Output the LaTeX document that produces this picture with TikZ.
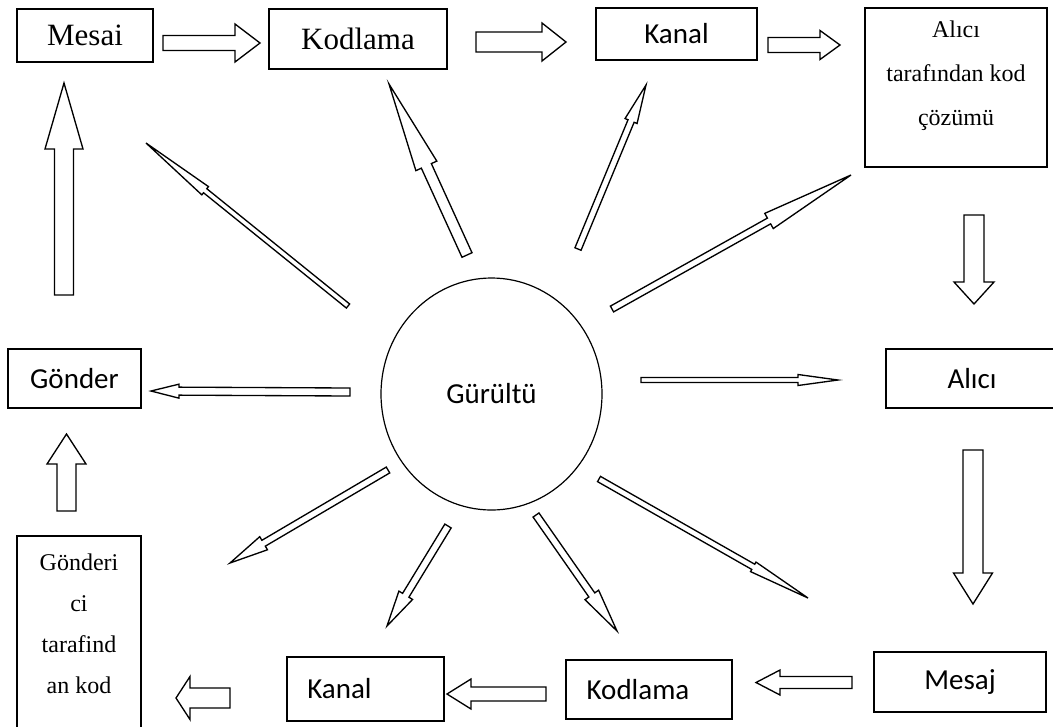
\documentclass[tikz,border=0pt]{standalone}
\usepackage{fontspec}
\setmainfont{Liberation Serif}
\newfontfamily\labelsans{Carlito}
\usetikzlibrary{calc,shapes.geometric}

% Outlined block arrow: #1 tail, #2 tip, #3 shaft half-width, #4 head half-width, #5 head length (all in px)
\newcommand{\blockarrow}[5]{%
  \pgfmathsetmacro\baw{#3*0.75}%
  \pgfmathsetmacro\bah{#4*0.75}%
  \pgfmathsetmacro\bal{#5*0.75}%
  \coordinate (ba-base) at ($(#2)!\bal pt!(#1)$);
  \draw[outlinearrow]
    ($(#1)!\baw pt!90:(#2)$) -- ($(ba-base)!\baw pt!90:(#2)$) -- ($(ba-base)!\bah pt!90:(#2)$)
    -- (#2) -- ($(ba-base)!\bah pt!-90:(#2)$) -- ($(ba-base)!\baw pt!-90:(#2)$)
    -- ($(#1)!\baw pt!-90:(#2)$) -- cycle;%
}

\tikzset{
  box/.style={draw, line width=1pt, inner sep=0pt},
  sz/.style 2 args={minimum width=#1*0.75pt, minimum height=#2*0.75pt},
  serifbig/.style={font=\fontsize{23.25}{28}\selectfont},
  sanslabel/.style={font=\labelsans\fontsize{21.75}{26}\selectfont},
  outlinearrow/.style={draw, line width=1pt, fill=white, line join=miter},
  stack/.style={anchor=north, inner sep=0pt, align=center},
}

\begin{document}
\begin{tikzpicture}[x=0.75pt, y=-0.75pt]
\useasboundingbox (0,0) rectangle (1053,726);
\fill[white] (0,0) rectangle (1053,726);
\clip (0,0) rectangle (1053,726);

% boxes
\node[box, sz={136}{53}, serifbig] (mesai) at (85,35.5) {Mesai};
\node[box, sz={178}{60}, serifbig] (kodlamaA) at (358,39) {Kodlama};
\node[box, sz={161}{52}, sanslabel] (kanalA) at (676.5,34) {Kanal};
\node[box, sz={182}{159}] (cozum) at (956,87.5) {};
\node[stack, font=\fontsize{18}{33}\selectfont] (cozumtext) at (956,17)
  {\rule{0pt}{15pt}Alıcı\\tarafından kod\\çözümü};
\node[box, sz={172}{59}, sanslabel] (alici) at (972,378.5) {Alıcı};
\node[box, sz={172}{60}, sanslabel] (mesaj) at (960,682) {Mesaj};
\node[box, sz={166}{59}, sanslabel] (kodlamaB) at (649,689.5) {Kodlama\rule{16.5pt}{0pt}};
\node[box, sz={157}{64}, sanslabel] (kanalB) at (365.5,689) {Kanal\rule{39pt}{0pt}};
\node[box, sz={124}{215}] (gkod) at (79,643.5) {};
\node[stack, font=\fontsize{18}{30.75}\selectfont] (gkodtext) at (79,550)
  {\rule{0pt}{15pt}Gönderi\\ci\\tarafind\\an kod};
\node[box, sz={133}{59}, sanslabel] (gonder) at (74.5,378.5) {Gönder};
\node[draw, ellipse, line width=0.9pt, inner sep=0pt, sz={221}{232}, sanslabel] (noise) at (491.5,394) {Gürültü};

% cycle arrows
\coordinate (c1t) at (163,43);   \coordinate (c1h) at (260,43);
\coordinate (c2t) at (476,42);   \coordinate (c2h) at (566,42);
\coordinate (c3t) at (768,45);   \coordinate (c3h) at (840,45);
\coordinate (c4t) at (974,215);  \coordinate (c4h) at (974,304);
\coordinate (c5t) at (973,450);  \coordinate (c5h) at (973,604);
\coordinate (c6t) at (852,682.5);\coordinate (c6h) at (756,682.5);
\coordinate (c7t) at (546,694);  \coordinate (c7h) at (447,694);
\coordinate (c8t) at (230,698);  \coordinate (c8h) at (176,698);
\coordinate (c9t) at (66.5,511); \coordinate (c9h) at (66.5,434);
\coordinate (c10t) at (64,295);  \coordinate (c10h) at (64,83);
\blockarrow{c1t}{c1h}{7.5}{19}{25}
\blockarrow{c2t}{c2h}{10}{19}{24}
\blockarrow{c3t}{c3h}{7.5}{14.5}{20}
\blockarrow{c4t}{c4h}{10}{20}{22}
\blockarrow{c5t}{c5h}{10}{19.5}{31}
\blockarrow{c6t}{c6h}{6}{12.5}{24}
\blockarrow{c7t}{c7h}{7}{15}{24}
\blockarrow{c8t}{c8h}{10}{21.5}{14}
\blockarrow{c9t}{c9h}{9.5}{19.5}{30}
\blockarrow{c10t}{c10h}{9.5}{19}{66}

% noise arrows radiating from the circle
\coordinate (r1t) at (350,392);  \coordinate (r1h) at (151,391);
\coordinate (r2t) at (348,306);  \coordinate (r2h) at (146,143);
\coordinate (r3t) at (467,255);  \coordinate (r3h) at (389,84);
\coordinate (r4t) at (578,249);  \coordinate (r4h) at (646,85);
\coordinate (r5t) at (612,309);  \coordinate (r5h) at (851,175);
\coordinate (r6t) at (641,380);  \coordinate (r6h) at (838,380);
\coordinate (r7t) at (599,479);  \coordinate (r7h) at (808,598);
\coordinate (r8t) at (536,515);  \coordinate (r8h) at (617,631);
\coordinate (r9t) at (448,526);  \coordinate (r9h) at (387,626);
\coordinate (r10t) at (388,470); \coordinate (r10h) at (230,563);
\blockarrow{r1t}{r1h}{4}{7}{28}
\blockarrow{r2t}{r2h}{2.6}{5.3}{76}
\blockarrow{r3t}{r3h}{5.5}{11.5}{90}
\blockarrow{r4t}{r4h}{3.3}{6.5}{39}
\blockarrow{r5t}{r5h}{3.3}{8.7}{94}
\blockarrow{r6t}{r6h}{2.5}{5.5}{40}
\blockarrow{r7t}{r7h}{3}{5.5}{63}
\blockarrow{r8t}{r8h}{3.6}{8.3}{44}
\blockarrow{r9t}{r9h}{3.7}{8}{36}
\blockarrow{r10t}{r10h}{3.4}{7.6}{39}
\end{tikzpicture}
\end{document}
